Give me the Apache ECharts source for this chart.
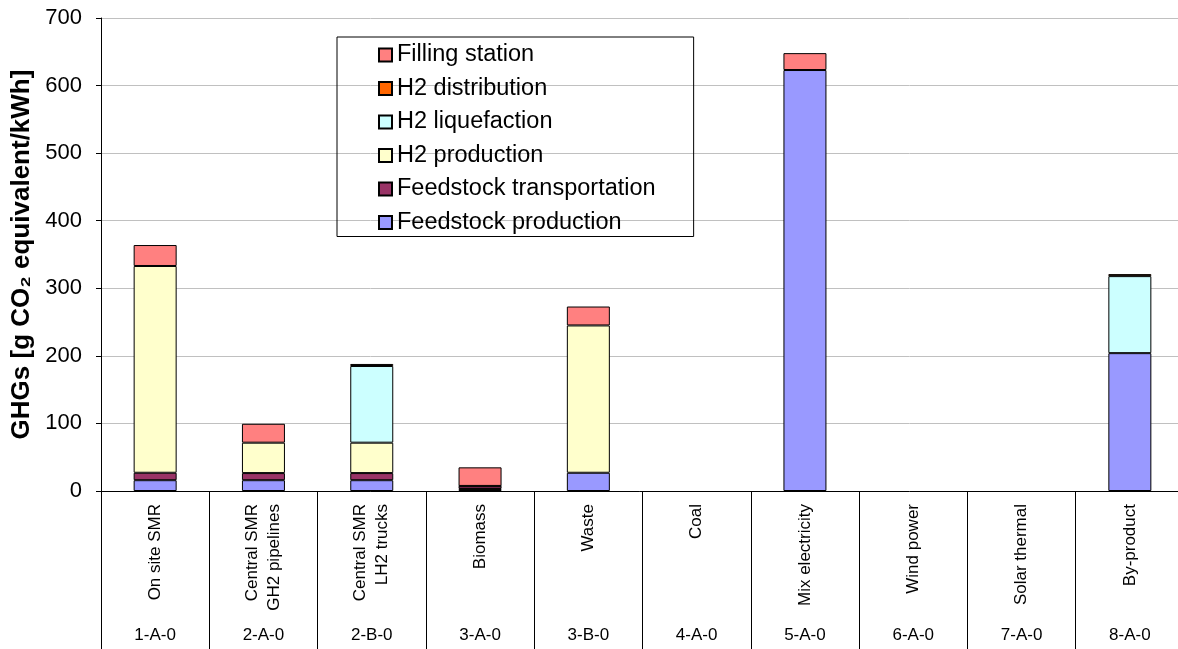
<!DOCTYPE html>
<html>
<head>
<meta charset="utf-8">
<script src="https://cdn.jsdelivr.net/npm/echarts@6/dist/echarts.min.js"></script>
<style>
  html, body { margin: 0; padding: 0; background: #fff; }
  #chart { width: 1178px; height: 649px; }
</style>
</head>
<body>
<div id="chart"></div>
<script>
const categories = ['On site SMR', 'Central SMR\nGH2 pipelines', 'Central SMR\nLH2 trucks', 'Biomass', 'Waste',
  'Coal', 'Mix electricity', 'Wind power', 'Solar thermal', 'By-product'];
const codes = ['1-A-0', '2-A-0', '2-B-0', '3-A-0', '3-B-0', '4-A-0', '5-A-0', '6-A-0', '7-A-0', '8-A-0'];
const yTicks = [0, 100, 200, 300, 400, 500, 600, 700];

// stacked from bottom to top
const feedstockProduction = [16, 16, 16, 3, 27, null, 623, null, null, 204];
const feedstockTransport = [11, 10.5, 10.5, 4, null, null, null, null, null, null];
const h2Production = [306, 45, 45, 0.5, 218, null, null, null, null, null];
const h2Liquefaction = [null, null, 113.5, null, null, null, null, null, null, 114];
const h2Distribution = [null, null, 3, null, null, null, null, null, null, 3];
const fillingStation = [31, 28, null, 27.5, 28, null, 25, null, null, null];

const font = 'Liberation Sans, Arial, sans-serif';

const stackSeries = [
  ['Feedstock production', feedstockProduction, '#9999FF'],
  ['Feedstock transportation', feedstockTransport, '#993366'],
  ['H2 production', h2Production, '#FFFFCC'],
  ['H2 liquefaction', h2Liquefaction, '#CCFFFF'],
  ['H2 distribution', h2Distribution, '#FF6600'],
  ['Filling station', fillingStation, '#FF8080']
];

const chart = echarts.init(document.getElementById('chart'));
const option = {
  backgroundColor: '#fff',
  animation: false,
  textStyle: { fontFamily: font },
  grid: { left: 101, width: 1083, top: 18, bottom: 158, outerBoundsMode: 'none', containLabel: false },
  legend: {
    orient: 'vertical',
    left: 337,
    top: 37,
    padding: [6, 38, 2, 41],
    itemWidth: 13,
    itemHeight: 13,
    itemGap: 9.5,
    borderColor: '#000',
    borderWidth: 1,
    icon: 'rect',
    textStyle: { fontFamily: font, fontSize: 23.5, color: '#000', lineHeight: 23 },
    data: ['Filling station', 'H2 distribution', 'H2 liquefaction', 'H2 production',
      'Feedstock transportation', 'Feedstock production']
  },
  xAxis: [
    {
      type: 'category',
      position: 'bottom',
      data: categories,
      axisLine: { show: true, lineStyle: { color: '#000', width: 1 } },
      axisTick: { show: true, interval: 0, length: 158, lineStyle: { color: '#000' } },
      axisLabel: { rotate: 90, interval: 0, margin: 13, fontSize: 17, color: '#000', fontFamily: font, lineHeight: 22 }
    },
    {
      type: 'category',
      position: 'bottom',
      data: codes,
      axisLine: { show: false },
      axisTick: { show: false },
      axisLabel: { interval: 0, margin: 136, fontSize: 17, color: '#000', fontFamily: font }
    }
  ],
  yAxis: {
    type: 'value',
    min: yTicks[0],
    max: yTicks[yTicks.length - 1],
    interval: 100,
    name: 'GHGs [g CO₂ equivalent/kWh]',
    nameLocation: 'middle',
    nameRotate: 90,
    nameGap: 60,
    nameTextStyle: { fontSize: 26, fontWeight: 'bold', color: '#000', fontFamily: font },
    axisLine: { show: true, lineStyle: { color: '#000' } },
    axisTick: { show: true, inside: false, length: 5, lineStyle: { color: '#000' } },
    axisLabel: { fontSize: 22, color: '#000', margin: 19, fontFamily: font },
    splitLine: { show: true, lineStyle: { color: '#c0c0c0' } }
  },
  series: stackSeries.map(([name, values, color]) => ({
    name: name,
    type: 'bar',
    stack: 'ghg',
    xAxisIndex: 0,
    barWidth: 43,
    data: values,
    itemStyle: { color: color, borderColor: '#000', borderWidth: 1 }
  }))
};
chart.setOption(option);
</script>
</body>
</html>
